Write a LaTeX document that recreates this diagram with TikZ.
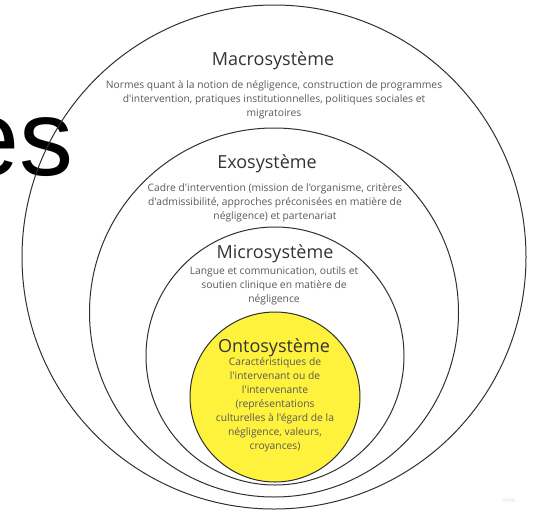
\documentclass[tikz,border=0pt]{standalone}
\usepackage{fontspec}
\setmainfont{Open Sans}[Ligatures=TeXOff]
\newfontfamily\slidefont{Liberation Sans}
\definecolor{ringline}{HTML}{303030}
\definecolor{ontoyellow}{HTML}{FFF23C}
\definecolor{titlegray}{HTML}{333333}
\definecolor{textgray}{HTML}{585858}
\tikzset{
  ring/.style={circle, draw=ringline, line width=1pt, inner sep=0pt},
  ringtitle/.style={anchor=base, text=titlegray, inner sep=0pt, font=\fontsize{18}{21}\selectfont},
  ringtext/.style={align=center, text=textgray, inner sep=0pt, font=\fontsize{10.3}{14}\selectfont},
}

\begin{document}
\begin{tikzpicture}[x=1pt, y=-1pt]
        \useasboundingbox (0,0) rectangle (541,512);

        % Slide title cut off on the left
        \node[anchor=base east, inner sep=0pt, font=\slidefont\fontsize{108}{108}\selectfont] (slidetitle) at (74,175.5) {es};

        % Nested systems
        \node[ring, minimum size=504pt] (macro) at (274,257) {};
        \node[ring, minimum size=369pt] (exo) at (274,312.5) {};
        \node[ring, minimum size=258pt] (micro) at (275,356) {};
        \node[ring, fill=ontoyellow, minimum size=170pt] (onto) at (275,397) {};

        % Macrosysteme
        \node[ringtitle] (macrotitle) at (273,65) {Macrosystème};
        \node[ringtext] (macrotext) at (274,100) {Normes quant à la notion de négligence, construction de programmes\\d'intervention, pratiques institutionnelles, politiques sociales et\\migratoires};

        % Exosysteme
        \node[ringtitle] (exotitle) at (267,168) {Exosystème};
        \node[ringtext] (exotext) at (275,203) {Cadre d'intervention (mission de l'organisme, critères\\d'admissibilité, approches préconisées en matière de\\négligence) et partenariat};

        % Microsysteme
        \node[ringtitle] (microtitle) at (275,258) {Microsystème};
        \node[ringtext] (microtext) at (274,286) {Langue et communication, outils et\\soutien clinique en matière de\\négligence};

        % Ontosysteme
        \node[ringtitle] (ontotitle) at (274,352) {Ontosystème};
        \node[ringtext] (ontotext) at (275,405) {Caractéristiques de\\l'intervenant ou de\\l'intervenante\\(représentations\\culturelles à l'égard de la\\négligence, valeurs,\\croyances)};

        % Watermark
        \node[text=gray!30, font=\fontsize{6}{7}\selectfont] (watermark) at (509,500) {miro};

    \end{tikzpicture}
\end{document}
